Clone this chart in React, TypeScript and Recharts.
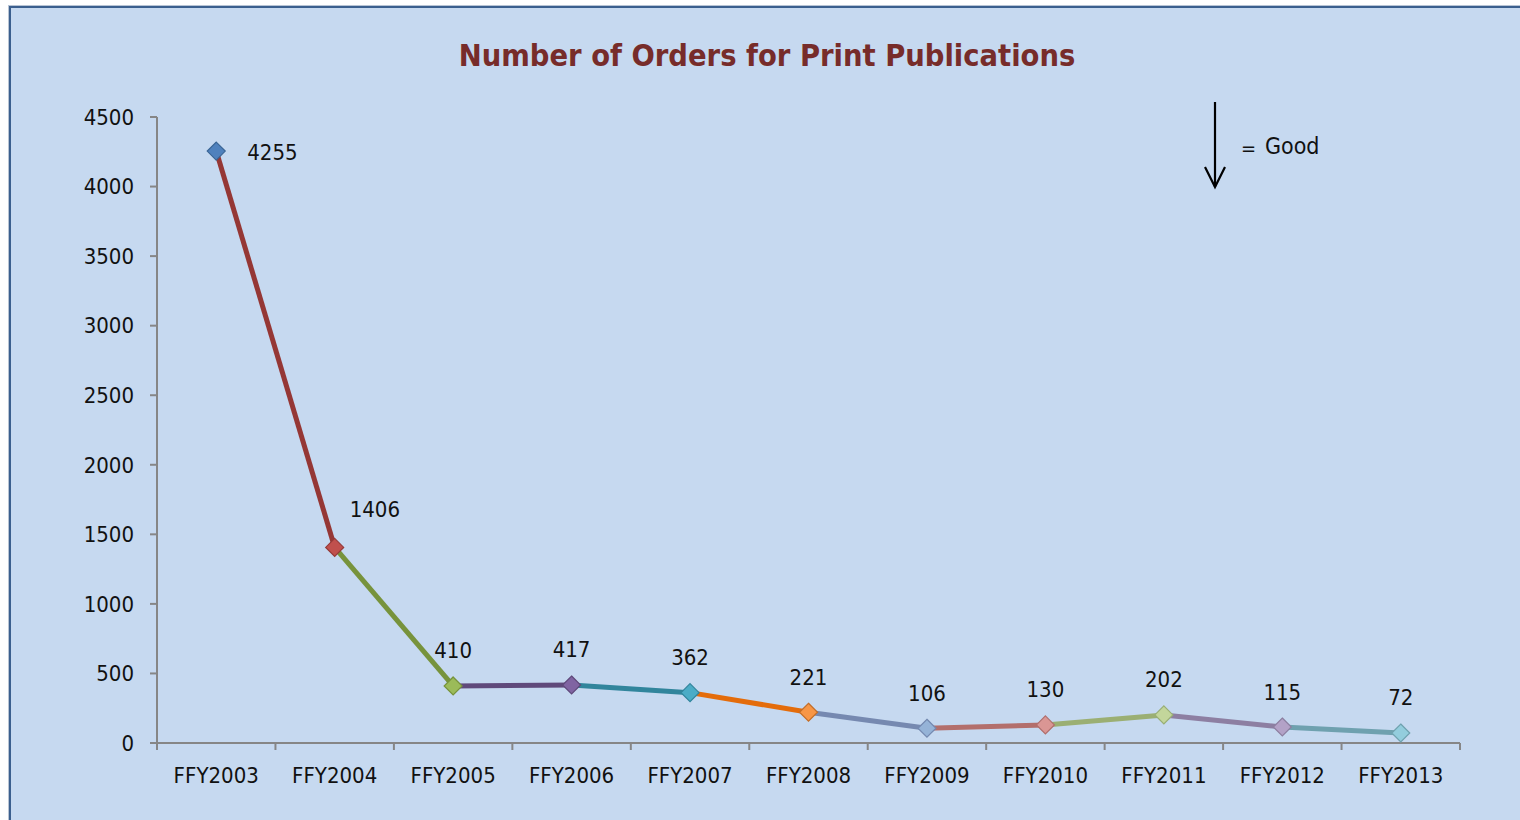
import React from 'react';
import { LineChart, Line, XAxis, YAxis } from 'recharts';

const categories = ['FFY2003', 'FFY2004', 'FFY2005', 'FFY2006', 'FFY2007', 'FFY2008', 'FFY2009', 'FFY2010', 'FFY2011', 'FFY2012', 'FFY2013'];
const orders = [4255, 1406, 410, 417, 362, 221, 106, 130, 202, 115, 72];
const yTicks = [0, 500, 1000, 1500, 2000, 2500, 3000, 3500, 4000, 4500];

// marker fill / outline per point, line colour per segment (ends at point i+1)
const pointFills = ['#4f81bd', '#c0504d', '#9bbb59', '#8064a2', '#4bacc6', '#f79646', '#95b3d7', '#da9694', '#c3d69b', '#b3a2c7', '#93cddd'];
const pointEdges = ['#3a6595', '#963a38', '#77933c', '#5f497a', '#31859c', '#c46e28', '#7489b0', '#b06e6c', '#98ae74', '#8c7fa0', '#6fa1af'];
const segmentColors = ['#953735', '#77933c', '#604a7b', '#31859c', '#e46c0a', '#7689b0', '#b36f6c', '#9baf73', '#8d7fa2', '#6fa1af'];

const FONT = "'Liberation Sans Narrow', 'DejaVu Sans Condensed', sans-serif";
const BG = '#c6d9f0';
const AXIS = '#868686';

const rows = categories.map((name, i) => {
  const r: Record<string, any> = { name, value: orders[i] };
  segmentColors.forEach((_, s) => {
    if (i === s || i === s + 1) r['s' + s] = orders[i];
  });
  return r;
});

const PLOT_LEFT = 157;
const PLOT_RIGHT = 1460;
const BAND = (PLOT_RIGHT - PLOT_LEFT) / categories.length;

const Diamond = (props: any) => {
  const { cx, cy, index } = props;
  if (cx == null || cy == null) return null;
  const r = 9;
  return (
    <path
      d={`M${cx},${cy - r} L${cx + r},${cy} L${cx},${cy + r} L${cx - r},${cy} Z`}
      fill={pointFills[index]}
      stroke={pointEdges[index]}
      strokeWidth={1.2}
    />
  );
};

const ValueLabel = (props: any) => {
  const { x, y, value, index } = props;
  let tx = x;
  let ty = y - 35;
  let anchor: 'start' | 'middle' = 'middle';
  if (index === 0) {
    tx = x + 31;
    ty = y + 1;
    anchor = 'start';
  } else if (index === 1) {
    tx = x + 15;
    ty = y - 38;
    anchor = 'start';
  }
  return (
    <text x={tx} y={ty} textAnchor={anchor} dominantBaseline="central" fontFamily={FONT} fontSize={22} fill="#111">
      {value}
    </text>
  );
};

const XTick = (props: any) => {
  const { x, y, payload, index } = props;
  const left = x - BAND / 2;
  return (
    <g>
      <line x1={left} y1={y} x2={left} y2={y + 7} stroke={AXIS} strokeWidth={2} />
      {index === categories.length - 1 && (
        <line x1={x + BAND / 2} y1={y} x2={x + BAND / 2} y2={y + 7} stroke={AXIS} strokeWidth={2} />
      )}
      <text x={x} y={y + 32} textAnchor="middle" dominantBaseline="central" fontFamily={FONT} fontSize={22} fill="#111">
        {payload.value}
      </text>
    </g>
  );
};

export default function App() {
  return (
    <div style={{ position: 'absolute', left: 0, top: 0, width: 1520, height: 820, background: '#fff', overflow: 'hidden' }}>
      <div
        style={{
          position: 'absolute',
          left: 8,
          top: 5,
          width: 1530,
          height: 830,
          background: BG,
          borderTop: '1px solid #b8c4d4',
          borderLeft: '1px solid #b8c4d4',
        }}
      >
        <div style={{ position: 'absolute', left: 0, top: 0, right: 0, height: 2, background: '#3b5f8e' }} />
        <div style={{ position: 'absolute', left: 0, top: 0, bottom: 0, width: 2, background: '#3b5f8e' }} />
      </div>
      <div style={{ position: 'absolute', left: 0, top: 0 }}>
        <LineChart width={1520} height={820} data={rows} margin={{ top: 117, right: 60, bottom: 0, left: 0 }}>
          <XAxis
            dataKey="name"
            axisLine={{ stroke: AXIS, strokeWidth: 2 }}
            tickLine={false}
            tickSize={0}
            tickMargin={0}
            tick={<XTick />}
            interval={0}
            height={77}
            padding={{ left: BAND / 2, right: BAND / 2 }}
          />
          <YAxis
            domain={[0, 4500]}
            ticks={yTicks}
            width={157}
            axisLine={{ stroke: AXIS, strokeWidth: 2 }}
            tickLine={{ stroke: AXIS, strokeWidth: 2 }}
            tickSize={7}
            tickMargin={16}
            tick={{ fontFamily: FONT, fontSize: 22, fill: '#111' }}
          />
          {segmentColors.map((c, s) => (
            <Line
              key={s}
              type="linear"
              dataKey={'s' + s}
              stroke={c}
              strokeWidth={5}
              dot={false}
              activeDot={false}
              connectNulls={false}
              isAnimationActive={false}
            />
          ))}
          <Line
            type="linear"
            dataKey="value"
            stroke="none"
            dot={<Diamond />}
            activeDot={false}
            label={<ValueLabel />}
            isAnimationActive={false}
          />
        </LineChart>
      </div>
      <div
        style={{
          position: 'absolute',
          left: 0,
          width: 1534,
          top: 38,
          textAlign: 'center',
          fontFamily: FONT,
          fontSize: 30.5,
          fontWeight: 'bold',
          color: '#772c2a',
        }}
      >
        Number of Orders for Print Publications
      </div>
      <svg style={{ position: 'absolute', left: 0, top: 0 }} width={1520} height={820}>
        <line x1={1215} y1={102} x2={1215} y2={187} stroke="#000" strokeWidth={2.2} />
        <polyline points="1205,167 1215,187 1225,167" fill="none" stroke="#000" strokeWidth={2.2} />
        <text x={1241} y={148} dominantBaseline="central" fontFamily={FONT} fontSize={20} fill="#111">
          =
        </text>
        <text x={1265} y={146} dominantBaseline="central" fontFamily={FONT} fontSize={23} fill="#111">
          Good
        </text>
      </svg>
    </div>
  );
}
